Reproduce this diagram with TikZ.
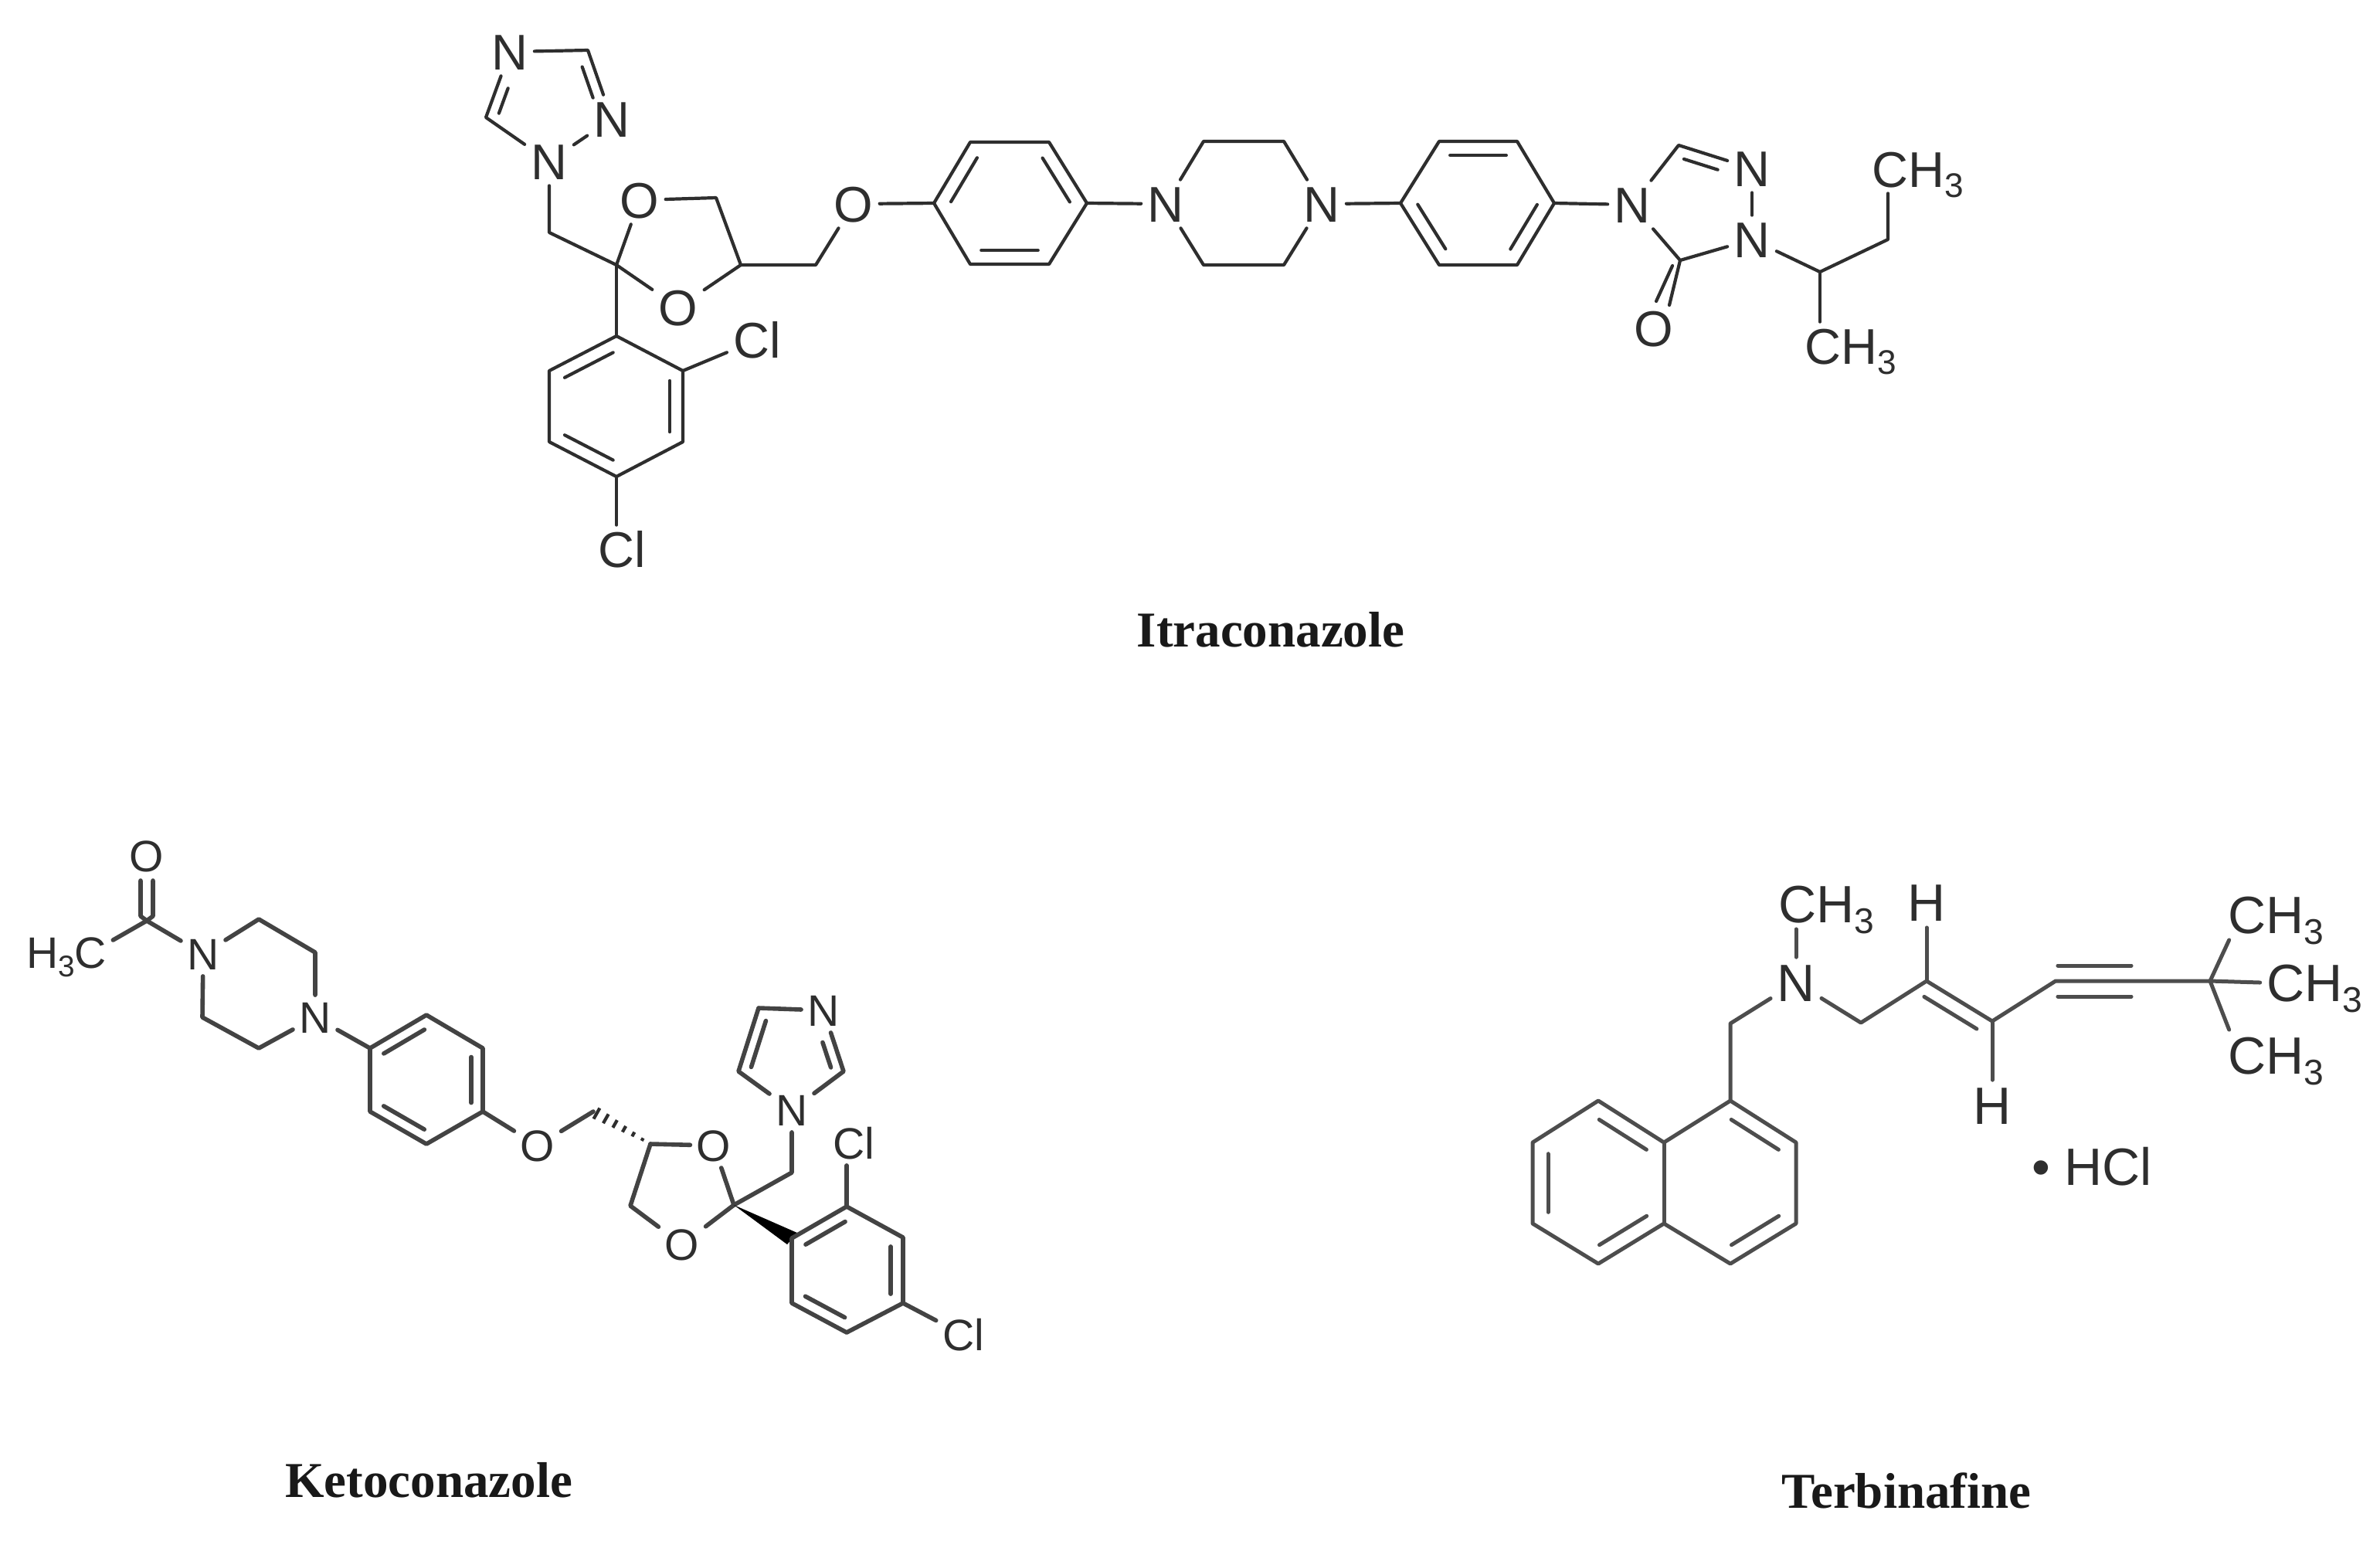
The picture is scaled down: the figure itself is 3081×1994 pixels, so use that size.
\documentclass[tikz,border=0pt]{standalone}
\usepackage{fontspec}
\setmainfont{Liberation Sans}
\newfontfamily\capfont{Liberation Serif}
\usetikzlibrary{calc}
\definecolor{ink}{HTML}{2E2E2E}
\newcommand{\subthree}{\raisebox{-.2em}{\scalebox{.68}{3}}}
% inner line of a double bond: from a to b, trimmed by fa and fb, offset to the left of a->b
\newcommand{\dblf}[5]{%
  \path ($(#1)!#3!(#2)$) coordinate (dblp) ($(#2)!#4!(#1)$) coordinate (dblq);
  \draw[bond] ($(dblp)!#5!90:(#2)$) -- ($(dblq)!#5!-90:(#1)$);}
\tikzset{
  bond/.style={draw=ink,line width=2.2pt,line join=round,line cap=round},
  atomA/.style={text=ink,inner sep=4pt,text height=23pt,text depth=0pt,font=\fontsize{32.5}{36}\selectfont},
  atomB/.style={text=ink,inner sep=4pt,text height=20.5pt,text depth=0pt,font=\fontsize{28.5}{32}\selectfont},
  atomC/.style={text=ink,inner sep=4pt,text height=24.5pt,text depth=0pt,font=\fontsize{34}{38}\selectfont},
  caption/.style={text=black!90,inner sep=0pt,font=\capfont\bfseries\fontsize{32.5}{36}\selectfont},
}
\begin{document}
\begin{tikzpicture}[x=0.5pt,y=-0.5pt]
\fill[white] (0,0) rectangle (3081,1994);
\useasboundingbox (0,0) rectangle (3081,1994);

% ---------- Itraconazole ----------
\begin{scope}[bond/.append style={line width=2.1pt}]
\foreach \n/\x/\y in {iC3/761/65,iC5/629/152,iCa/711/301,iC2/798/343,iCb/927/256,iC4/959/343,iCc/1056/343,
  pa/798/435,pb/711/480,pc/711/572,pd/798/617,pe/884/572,pf/884/480,
  A1/1209/263,A2/1256/342,A3/1358/342,A4/1407/263,A5/1358/184,A6/1256/184,
  Pa/1558/183,Pb/1662/183,Pc/1662/343,Pd/1558/343,
  B1/1813/263,B2/1863/343,B3/1964/343,B4/2012/263,B5/1964/183,B6/1863/183,
  T5/2173/188,T3/2175/337,iCH/2356/352,iCd/2444/310,
  iOka/2161/395,iOkb/2165/344,iOkc/2144/390}
  \coordinate (\n) at (\x,\y);
\node[atomA] (iN4) at (660,67) {N};
\node[atomA] (iN2) at (792,154) {N};
\node[atomA] (iN1) at (711,209) {N};
\node[atomA] (iO1) at (828,259) {O};
\node[atomA] (iO3) at (878,398) {O};
\node[atomA] (iO) at (1105,264) {O};
\node[atomA] (iCl2) at (980,440) {Cl};
\node[atomA] (iCl4) at (805,711) {Cl};
\node[atomA] (iNa) at (1509,264) {N};
\node[atomA] (iNb) at (1711,264) {N};
\node[atomA] (iNc) at (2113,265) {N};
\node[atomA] (iNd) at (2268,218) {N};
\node[atomA] (iNe) at (2268,310) {N};
\node[atomA] (iOk) at (2141,425) {O};
\node[atomA] (iMa) at (2483,219) {CH\subthree};
\node[atomA] (iMb) at (2396,448) {CH\subthree};

\draw[bond] (iN4) -- (iC3) -- (iN2);
\draw[bond] (iN4) -- (iC5) -- (iN1);
\draw[bond] (iN1) -- (iN2);
\dblf{iN2}{iC3}{.36}{.19}{7pt}
\dblf{iN4}{iC5}{.5}{.12}{7pt}
\draw[bond] (iN1) -- (iCa) -- (iC2);
\draw[bond] (iC2) -- (iO1);
\draw[bond] (iO1) -- (iCb) -- (iC4);
\draw[bond] (iC4) -- (iO3);
\draw[bond] (iO3) -- (iC2);
\draw[bond] (iC4) -- (iCc) -- (iO);
\draw[bond] (iO) -- (A1);
\draw[bond] (iC2) -- (pa);
\draw[bond] (pa) -- (pb) -- (pc) -- (pd) -- (pe) -- (pf) -- cycle;
\dblf{pa}{pb}{.14}{.14}{8.5pt}
\dblf{pc}{pd}{.14}{.14}{8.5pt}
\dblf{pe}{pf}{.14}{.14}{8.5pt}
\draw[bond] (pf) -- (iCl2);
\draw[bond] (pd) -- (iCl4.north -| pd);
\draw[bond] (A1) -- (A2) -- (A3) -- (A4) -- (A5) -- (A6) -- cycle;
\dblf{A2}{A3}{.14}{.14}{9pt}
\dblf{A4}{A5}{.14}{.14}{9pt}
\dblf{A6}{A1}{.14}{.14}{9pt}
\draw[bond] (A4) -- (iNa);
\draw[bond] (iNa) -- (Pa) -- (Pb) -- (iNb);
\draw[bond] (iNb) -- (Pc) -- (Pd) -- (iNa);
\draw[bond] (iNb) -- (B1);
\draw[bond] (B1) -- (B2) -- (B3) -- (B4) -- (B5) -- (B6) -- cycle;
\dblf{B1}{B2}{.14}{.14}{9pt}
\dblf{B3}{B4}{.14}{.14}{9pt}
\dblf{B5}{B6}{.14}{.14}{9pt}
\draw[bond] (B4) -- (iNc);
\draw[bond] (iNc) -- (T5) -- (iNd);
\dblf{iNd}{T5}{.42}{.12}{7.5pt}
\draw[bond] (iNd) -- (iNe);
\draw[bond] (iNe) -- (T3) -- (iNc);
\draw[bond] (T3) -- (iOka);
\draw[bond] (iOkb) -- (iOkc);
\draw[bond] (iNe) -- (iCH) -- (iCd) -- (iMa.south -| iCd);
\draw[bond] (iCH) -- (iMb.north -| iCH);
\end{scope}
\node[caption] (capI) at (1645,815) {Itraconazole};

% ---------- Ketoconazole ----------
\begin{scope}[bond/.append style={line width=2.8pt,draw=ink!90}]
\foreach \n/\x/\y in {kC/190/1192,kCa/182/1140,kCb/182/1186,kCc/198/1140,kCd/198/1186,
  kP1/335/1190,kP2/408/1233,kP3/335/1357,kP4/262/1317,
  kA1/479/1357,kA2/552/1314,kA3/625/1357,kA4/625/1439,kA5/552/1481,kA6/479/1439,
  kC5/768/1439,kC4/842/1481,kC2/950/1560,kCe/816/1561,kCf/1025/1518,
  kL/956/1387,kTL/982/1305,kR/1092/1387,
  kQa/1025/1603,kQb/1096/1562,kQc/1169/1602,kQd/1169/1687,kQe/1096/1725,kQf/1025/1687,
  kW1/1019/1611,kW2/1032/1596}
  \coordinate (\n) at (\x,\y);
\node[atomB] (kO) at (190,1108) {O};
\node[atomB] (kMe) at (86,1233) {H\subthree C};
\node[atomB] (kN1) at (263,1235) {N};
\node[atomB] (kN4) at (408,1317) {N};
\node[atomB] (kOe) at (696,1483) {O};
\node[atomB] (kO1) at (924,1483) {O};
\node[atomB] (kO3) at (883,1611) {O};
\node[atomB] (kNi) at (1025,1437) {N};
\node[atomB] (kNt) at (1066,1308) {N};
\node[atomB] (kCl1) at (1105,1480) {Cl};
\node[atomB] (kCl2) at (1247,1728) {Cl};

\draw[bond] (kCa) -- (kCb) -- (kC) -- (kCd) -- (kCc);
\draw[bond] (kC) -- ($(kMe.east)+(0,-16)$);
\draw[bond] (kC) -- (kN1);
\draw[bond] (kN1) -- (kP1) -- (kP2) -- (kN4);
\draw[bond] (kN4) -- (kP3) -- (kP4) -- (kN1);
\draw[bond] (kN4) -- (kA1);
\draw[bond] (kA1) -- (kA2) -- (kA3) -- (kA4) -- (kA5) -- (kA6) -- cycle;
\dblf{kA2}{kA1}{.14}{.14}{7.5pt}
\dblf{kA6}{kA5}{.14}{.14}{7.5pt}
\dblf{kA4}{kA3}{.14}{.14}{7.5pt}
\draw[bond] (kA4) -- (kOe);
\draw[bond] (kOe) -- (kC5);
\foreach \t/\l in {.14/1.0,.30/1.6,.46/2.2,.62/2.8,.78/3.4,.94/4.0}{
  \path ($(kC4)!\t!(kC5)$) coordinate (hs);
  \draw[draw=ink,line width=2.1pt] ($(hs)!\l pt!90:(kC5)$) -- ($(hs)!\l pt!-90:(kC5)$);
}
\draw[bond] (kC4) -- (kO1);
\draw[bond] (kO1) -- (kC2);
\draw[bond] (kC2) -- (kO3);
\draw[bond] (kO3) -- (kCe) -- (kC4);
\draw[bond] (kC2) -- (kCf) -- (kNi);
\draw[bond] (kNi) -- (kL) -- (kTL) -- (kNt);
\draw[bond] (kNt) -- (kR) -- (kNi);
\dblf{kTL}{kL}{.15}{.12}{7pt}
\dblf{kR}{kNt}{.12}{.47}{7pt}
\fill[black] (kC2) -- (kW1) -- (kW2) -- cycle;
\draw[bond] (kQa) -- (kQb) -- (kQc) -- (kQd) -- (kQe) -- (kQf) -- cycle;
\dblf{kQb}{kQa}{.14}{.14}{8pt}
\dblf{kQf}{kQe}{.14}{.14}{8pt}
\dblf{kQd}{kQc}{.14}{.14}{8pt}
\draw[bond] (kQb) -- (kCl1.south -| kQb);
\draw[bond] (kQd) -- (kCl2);
\end{scope}
\node[caption] (capK) at (555,1916) {Ketoconazole};

% ---------- Terbinafine ----------
\begin{scope}[bond/.append style={line width=2.5pt,draw=ink!85}]
\foreach \n/\x/\y in {n1/2240/1425,n2/2325/1479,n3/2325/1584,n4/2240/1636,n4a/2154/1584,n5/2069/1636,
  n6/1984/1584,n7/1984/1479,n8/2069/1425,n8a/2154/1479,
  tCa/2240/1325,tCb/2409/1324,tA/2494/1270,tB/2579/1322,tk1/2661/1270,tk2/2759/1270,tq/2861/1270}
  \coordinate (\n) at (\x,\y);
\node[atomC] (tN) at (2325,1272) {N};
\node[atomC] (tMe) at (2364,1170) {CH\subthree};
\node[atomC] (tHa) at (2494,1168) {H};
\node[atomC] (tHb) at (2579,1431) {H};
\node[atomC] (tMa) at (2946,1184) {CH\subthree};
\node[atomC] (tMb) at (2996,1272) {CH\subthree};
\node[atomC] (tMc) at (2946,1366) {CH\subthree};
\node[atomC] (tHCl) at (2708,1510) {• HCl};

\draw[bond] (n1) -- (n8a) -- (n8) -- (n7) -- (n6) -- (n5) -- (n4a) -- (n4) -- (n3) -- (n2) -- cycle;
\draw[bond] (n8a) -- (n4a);
\dblf{n8a}{n8}{.14}{.14}{10pt}
\dblf{n7}{n6}{.14}{.14}{10pt}
\dblf{n5}{n4a}{.14}{.14}{10pt}
\dblf{n4}{n3}{.14}{.14}{10pt}
\dblf{n2}{n1}{.14}{.14}{10pt}
\draw[bond] (n1) -- (tCa) -- (tN);
\draw[bond] (tN) -- (tCb) -- (tA) -- (tB) -- (tk1) -- (tq);
\draw[bond] (tN.north) -- (tMe.south -| tN);
\dblf{tA}{tB}{.08}{.12}{-9.5pt}
\draw[bond] (tA) -- (tHa);
\draw[bond] (tB) -- (tHb);
\dblf{tk1}{tk2}{.03}{0}{10pt}
\dblf{tk1}{tk2}{.03}{0}{-10pt}
\draw[bond] (tq) -- ($(tMa.south west)+(10,0)$);
\draw[bond] (tq) -- (tMb.west);
\draw[bond] (tq) -- ($(tMc.north west)+(10,0)$);
\end{scope}
\node[caption] (capT) at (2468,1930) {Terbinafine};
\end{tikzpicture}
\end{document}
